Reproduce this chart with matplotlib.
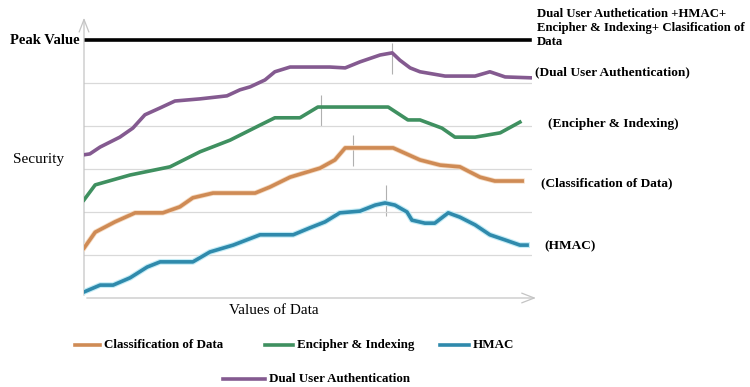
"""
Security vs. values of data for the four protection schemes,
with the combined scheme drawn as the peak value line.
"""

import matplotlib
matplotlib.use("Agg")
import matplotlib.pyplot as plt
from matplotlib.lines import Line2D
import matplotlib.patheffects as pe

plt.rcParams['font.family'] = ['Liberation Serif', 'DejaVu Serif']

# x runs 0..100 along "Values of Data", y in grid steps above the x axis
dual_x = [0, 1.3, 3.6, 8.0, 10.9, 13.6, 17.0, 20.3, 25.9, 31.9, 34.8, 37.1, 40.4, 42.6,
          46.0, 54.9, 58.3, 61.6, 66.1, 68.8, 70.5, 72.8, 75.0, 80.6, 87.3, 90.6, 94.0, 99.6]
dual_y = [3.33, 3.35, 3.51, 3.74, 3.95, 4.26, 4.42, 4.58, 4.63, 4.70, 4.84, 4.91, 5.07, 5.26,
          5.37, 5.37, 5.35, 5.49, 5.65, 5.70, 5.53, 5.35, 5.26, 5.16, 5.16, 5.26, 5.14, 5.12]

enc_x = [0, 2.5, 10.3, 19.2, 25.9, 32.6, 39.3, 42.6, 48.2, 52.2, 67.9, 72.3, 75.0,
         79.9, 82.8, 87.3, 92.9, 97.3]
enc_y = [2.28, 2.63, 2.86, 3.05, 3.40, 3.67, 4.02, 4.19, 4.19, 4.44, 4.44, 4.14, 4.14,
         3.95, 3.74, 3.74, 3.84, 4.09]

cls_x = [0, 2.5, 6.9, 11.4, 17.6, 21.4, 24.3, 28.8, 38.2, 41.5, 46.0, 52.7, 56.0, 58.3,
         69.0, 75.0, 79.5, 83.9, 88.4, 91.7, 97.8]
cls_y = [1.16, 1.53, 1.77, 1.98, 1.98, 2.12, 2.33, 2.44, 2.44, 2.58, 2.81, 3.02, 3.21, 3.49,
         3.49, 3.21, 3.09, 3.05, 2.81, 2.72, 2.72]

hmac_x = [0, 3.6, 6.5, 10.3, 14.1, 17.0, 24.3, 28.1, 33.3, 39.3, 46.7, 50.4, 53.8, 57.1,
          61.6, 65.0, 67.2, 69.4, 72.1, 73.2, 76.1, 78.3, 81.3, 83.9, 87.3, 90.6, 94.0,
          97.3, 98.9]
hmac_y = [0.14, 0.30, 0.30, 0.47, 0.72, 0.84, 0.84, 1.07, 1.23, 1.47, 1.47, 1.63, 1.77, 1.98,
          2.02, 2.16, 2.21, 2.16, 2.00, 1.81, 1.74, 1.74, 1.98, 1.88, 1.70, 1.47, 1.35,
          1.23, 1.23]

peak_value = 6.0

# small vertical markers at each curve's peak
mark_x = [68.8, 52.9, 60.0, 67.4]
mark_y = [5.57, 4.37, 3.42, 2.26]

c_dual = '#845a90'
c_enc = '#3f9060'
c_cls = '#cf8b55'
c_hmac = '#2f8aac'

fig = plt.figure(figsize=(7.5, 3.87), dpi=100)
W, H = 750.0, 387.0
ax = fig.add_axes([84 / W, 1 - 298 / H, 448 / W, 283 / H])
ax.set_xlim(0, 100)
ax.set_ylim(0, 6.58)

for s in ax.spines.values():
    s.set_visible(False)
ax.set_yticks([1, 2, 3, 4, 5])
ax.set_xticks([])
ax.tick_params(left=False, labelleft=False)
ax.grid(axis='y', color='#d9d9d9', linewidth=0.9)

# axes drawn as light arrows
arrow = dict(arrowstyle='->,head_length=0.9,head_width=0.35', color='#c4c4c4', lw=0.9)
ax.annotate('', xy=(0, 1.0), xytext=(0, 0), xycoords='axes fraction',
            textcoords='axes fraction', arrowprops=arrow, annotation_clip=False)
ax.annotate('', xy=(1.015, 0), xytext=(0, 0), xycoords='axes fraction',
            textcoords='axes fraction', arrowprops=arrow, annotation_clip=False)

ax.axhline(peak_value, color='black', linewidth=2.6, xmax=0.995)

ax.vlines(mark_x, [y - 0.36 for y in mark_y], [y + 0.36 for y in mark_y],
          color='#b0b0b0', linewidth=0.8, zorder=1)

ax.plot(dual_x, dual_y, color=c_dual, linewidth=2.6, zorder=3)
ax.plot(enc_x, enc_y, color=c_enc, linewidth=2.6, zorder=3)
ax.plot(cls_x, cls_y, color=c_cls, linewidth=2.6, zorder=3,
        path_effects=[pe.Stroke(linewidth=3.8, foreground='#f6dcc4'), pe.Normal()])
ax.plot(hmac_x, hmac_y, color=c_hmac, linewidth=2.6, zorder=3,
        path_effects=[pe.Stroke(linewidth=4.2, foreground='#c4ecf6'), pe.Normal()])


def ftext(x, y, s, **kw):
    fig.text(x / W, 1 - y / H, s, **kw)


ftext(80, 40, 'Peak Value', ha='right', va='center', fontsize=10.5, fontweight='bold')
ftext(38, 160, 'Security', ha='center', va='center', fontsize=11)
ftext(274, 311, 'Values of Data', ha='center', va='center', fontsize=11)

ftext(537, 8, 'Dual User Authetication +HMAC+\nEncipher & Indexing+ Clasification of\nData',
      ha='left', va='top', fontsize=9.2, fontweight='bold', linespacing=1.2)
ftext(535, 72, '(Dual User Authentication)', ha='left', va='center', fontsize=9.6,
      fontweight='bold')
ftext(548, 124, '(Encipher & Indexing)', ha='left', va='center', fontsize=9.6,
      fontweight='bold')
ftext(541, 183, '(Classification of Data)', ha='left', va='center', fontsize=9.6,
      fontweight='bold')
ftext(544, 246, '(HMAC)', ha='left', va='center', fontsize=9.6, fontweight='bold')

# legend drawn by hand to keep the two-row layout
legend_items = [
    ('Classification of Data', c_cls, 75, 100, 345),
    ('Encipher & Indexing', c_enc, 265, 293, 345),
    ('HMAC', c_hmac, 440, 469, 345),
    ('Dual User Authentication', c_dual, 223, 265, 379),
]
for label, col, x0, x1, y in legend_items:
    fig.add_artist(Line2D([x0 / W, x1 / W], [1 - y / H, 1 - y / H], color=col,
                          linewidth=2.6, transform=fig.transFigure))
    ftext(x1 + 4, y, label, ha='left', va='center', fontsize=9.4, fontweight='bold')

fig.savefig('out.png', dpi=100)
